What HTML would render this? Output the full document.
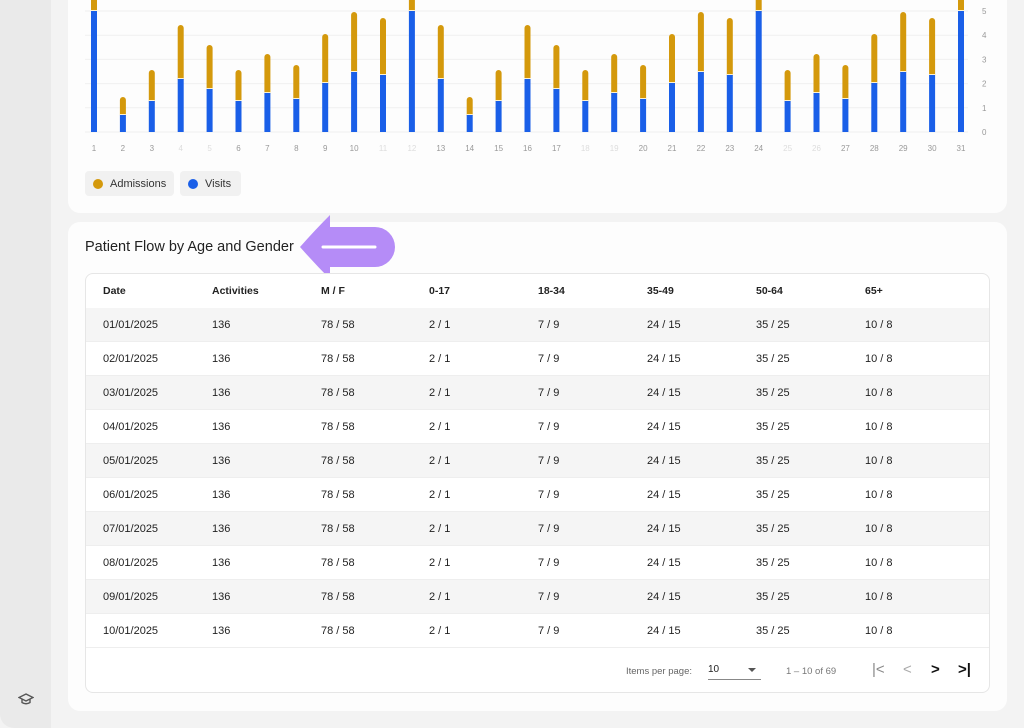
<!DOCTYPE html>
<html><head><meta charset="utf-8"><style>
*{margin:0;padding:0;box-sizing:border-box}
body{width:1024px;height:728px;background:#f3f3f3;font-family:"Liberation Sans",sans-serif;position:relative;overflow:hidden;color:#222}
.side{position:absolute;left:0;top:0;width:51px;height:728px;background:#eaeaea;border-bottom-left-radius:14px}
.card{position:absolute;left:68px;width:939px;background:#fdfdfd;border-radius:12px}
.tbl{position:absolute;left:85px;top:273px;width:905px;height:420px;border:1px solid #e6e6e6;border-radius:8px;background:#fff;overflow:hidden}
.row{position:absolute;left:0;width:905px;height:34px;font-size:11px;color:#222}
.row span{position:absolute;top:11px}
.g{background:#f5f5f5}
.h{font-weight:bold;font-size:10.5px}
.leg{position:absolute;top:171px;height:25px;background:#f1f1f1;border-radius:4px;font-size:11px;color:#333}
.leg span{position:absolute;left:25px;top:7px}
.dot{position:absolute;top:8px;left:8px;width:10px;height:10px;border-radius:50%}
</style></head><body>
<div class="side"></div>
<svg style="position:absolute;left:18px;top:692px" width="16" height="14" viewBox="0 0 16 14"><path d="M8 2 L15 5.5 L8 9 L1 5.5Z M4 7 V10.5 Q8 13 12 10.5 V7" fill="none" stroke="#555" stroke-width="1.4"/></svg>
<div class="card" style="top:-20px;height:233px"></div>
<svg style="position:absolute;left:0;top:0" width="1024" height="160">
<g stroke="#f0f0f0" stroke-width="1">
<line x1="85" x2="968" y1="132" y2="132"/><line x1="85" x2="968" y1="107.8" y2="107.8"/><line x1="85" x2="968" y1="83.6" y2="83.6"/><line x1="85" x2="968" y1="59.4" y2="59.4"/><line x1="85" x2="968" y1="35.2" y2="35.2"/><line x1="85" x2="968" y1="11" y2="11"/>
</g>
<g font-size="8" fill="#999" font-family="Liberation Sans,sans-serif">
<text x="982" y="135">0</text><text x="982" y="110.8">1</text><text x="982" y="86.6">2</text><text x="982" y="62.4">3</text><text x="982" y="38.2">4</text><text x="982" y="14">5</text>
</g>
<g id="bars"></g>
<g id="xl" font-size="8" fill="#999" text-anchor="middle" font-family="Liberation Sans,sans-serif"></g>
</svg>
<script>
var v=[11,115,101,79,89,101,93,99,83,72,75,11,79,115,101,79,89,101,93,99,83,72,75,11,101,93,99,83,72,75,11];
var t=[-10,97,70,25,45,70,54,65,34,12,18,-10,25,97,70,25,45,70,54,65,34,12,18,-10,70,54,65,34,12,18,-10];
var faint={4:1,5:1,11:1,12:1,18:1,19:1,25:1,26:1};
var b='',l='';
for(var i=0;i<31;i++){var x=94+i*28.9;
b+='<rect x="'+(x-3)+'" y="'+t[i]+'" width="6" height="'+(v[i]-t[i]+3)+'" rx="3" fill="#d4990c"/>';
b+='<rect x="'+(x-3)+'" y="'+(v[i]-1)+'" width="6" height="1" fill="#fff3d0"/>';
b+='<rect x="'+(x-3)+'" y="'+v[i]+'" width="6" height="'+(132-v[i])+'" fill="#1a5fe8"/>';
l+='<text x="'+x+'" y="151" fill="'+(faint[i+1]?'#ddd':'#999')+'">'+(i+1)+'</text>';}
document.getElementById('bars').innerHTML=b;document.getElementById('xl').innerHTML=l;
</script>
<div class="leg" style="left:85px;width:89px"><div class="dot" style="background:#d4990c"></div><span>Admissions</span></div>
<div class="leg" style="left:180px;width:61px"><div class="dot" style="background:#1a5fe8"></div><span>Visits</span></div>
<div class="card" style="top:222px;height:489px"></div>
<div style="position:absolute;left:85px;top:239px;font-size:14.5px;color:#222">Patient Flow by Age and Gender</div>
<svg style="position:absolute;left:295px;top:212px" width="105" height="70"><path d="M5 35 Q20 18 35 3 L35 15 L80 15 A20 20 0 0 1 80 55 L35 55 L35 67 Q20 52 5 35Z" fill="#b58cf7"/><line x1="28" y1="35" x2="80" y2="35" stroke="#fff" stroke-width="3" stroke-linecap="round"/></svg>
<div class="tbl" id="tbl"></div>
<script>
var cx=[17,126,235,343,452,561,670,779];
var h=['Date','Activities','M / F','0-17','18-34','35-49','50-64','65+'];
var s='<div class="row h" style="top:0">';for(var j=0;j<8;j++)s+='<span style="left:'+cx[j]+'px">'+h[j]+'</span>';s+='</div>';
for(var r=0;r<10;r++){var d=('0'+(r+1)).slice(-2)+'/01/2025';
var vals=[d,'136','78 / 58','2 / 1','7 / 9','24 / 15','35 / 25','10 / 8'];
s+='<div class="row'+(r%2==0?' g':'')+'" style="top:'+(34+r*34)+'px;border-bottom:1px solid #eee">';for(var j=0;j<8;j++)s+='<span style="left:'+cx[j]+'px">'+vals[j]+'</span>';s+='</div>';}
s+='<div style="position:absolute;top:392px;left:540px;font-size:9.5px;color:#666">Items per page:</div>';
s+='<div style="position:absolute;top:390px;left:622px;width:53px;height:16px;border-bottom:1px solid #888;font-size:10px;color:#222">10<span style="position:absolute;left:40px;top:4px;border:4px solid transparent;border-top:4px solid #555"></span></div>';
s+='<div style="position:absolute;top:392px;left:700px;font-size:9.5px;color:#777">1 – 10 of 69</div>';
s+='<div style="position:absolute;top:387px;left:786px;font-size:15px;color:#888">|&lt;</div><div style="position:absolute;top:387px;left:817px;font-size:15px;color:#aaa">&lt;</div><div style="position:absolute;top:387px;left:845px;font-size:15px;color:#111;font-weight:bold">&gt;</div><div style="position:absolute;top:387px;left:872px;font-size:15px;color:#111;font-weight:bold">&gt;|</div>';
document.getElementById('tbl').innerHTML=s;
</script>
</body></html>
